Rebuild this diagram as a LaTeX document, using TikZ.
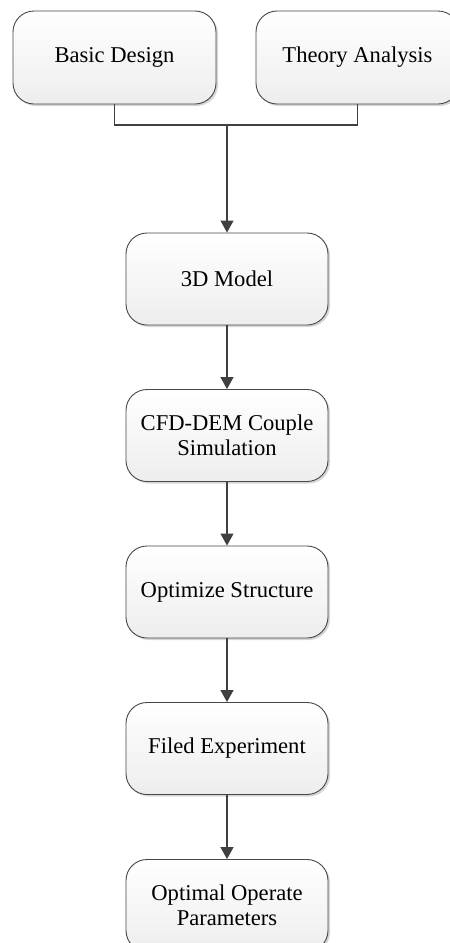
\documentclass[tikz,border=0pt]{standalone}
\usepackage{fontspec}
\setmainfont{Liberation Serif}
\usetikzlibrary{arrows.meta,shadows}
\begin{document}
\begin{tikzpicture}[x=1pt,y=-1pt,
  stepbox/.style={draw=black!72, line width=0.9pt, rounded corners=21pt,
    top color=white, bottom color=black!7,
    drop shadow={shadow xshift=2pt, shadow yshift=-2pt, fill=black!20, opacity=0.8},
    minimum width=202pt, minimum height=92pt, align=center,
    font=\fontsize{22.6}{25}\selectfont, inner sep=2pt},
  link/.style={draw=black!75, line width=1.2pt},
  arr/.style={link, -{Triangle[length=12pt,width=13pt]}}]
\useasboundingbox (0,0) rectangle (450,943);
\clip (0,0) rectangle (450,943);
\node[stepbox, minimum width=203pt, minimum height=93pt] (basic) at (114.5,57.5) {Basic Design};
\node[stepbox, minimum width=203pt, minimum height=93pt] (theory) at (357.5,57.5) {Theory Analysis};
\node[stepbox] (model) at (227,279) {3D Model};
\node[stepbox] (cfd) at (227,435.5) {CFD-DEM Couple\\Simulation};
\node[stepbox] (opt) at (227,592) {Optimize Structure};
\node[stepbox] (filed) at (227,748.5) {Filed Experiment};
\node[stepbox] (param) at (227,905.5) {Optimal Operate\\Parameters};
\coordinate (j) at (227,125);
\draw[link] (basic.south) |- (j) -| (theory.south);
\draw[arr] (j) -- (model.north);
\draw[arr] (model) -- (cfd);
\draw[arr] (cfd) -- (opt);
\draw[arr] (opt) -- (filed);
\draw[arr] (filed) -- (param);
\end{tikzpicture}
\end{document}
